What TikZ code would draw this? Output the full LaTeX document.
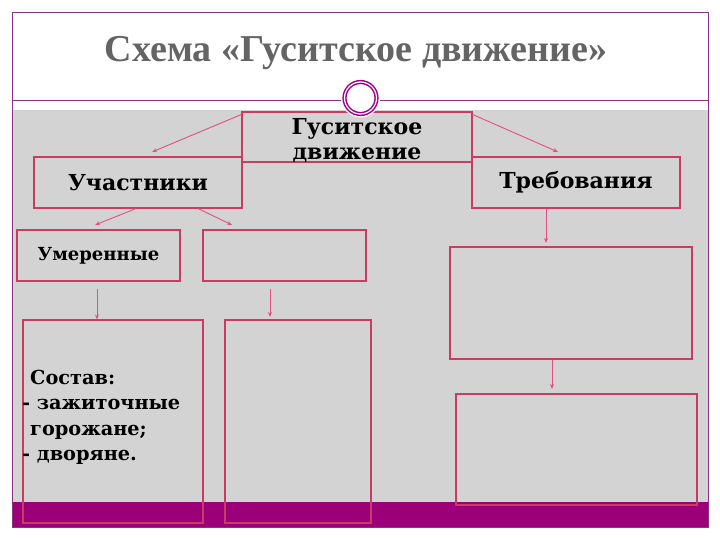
\documentclass[tikz,border=0pt]{standalone}
\usepackage{fontspec}
\setmainfont{DejaVu Serif}
\newfontfamily\titlefont{Liberation Serif}
\usetikzlibrary{arrows.meta}
\definecolor{framec}{RGB}{140,50,130}
\definecolor{boxc}{RGB}{200,60,100}
\definecolor{arrc}{RGB}{225,80,130}
\definecolor{grayc}{RGB}{211,211,211}
\definecolor{bandc}{RGB}{155,0,120}
\definecolor{titlec}{RGB}{100,100,100}
\definecolor{ringc}{RGB}{160,0,140}
\begin{document}
\begin{tikzpicture}[x=1pt,y=-1pt,
  box/.style={draw=boxc, line width=1.1pt, inner sep=0pt, align=center,
    font=\bfseries\fontsize{22}{25}\selectfont},
  smallbox/.style={box, font=\bfseries\fontsize{18}{20}\selectfont},
  boxtext/.style={inner sep=0pt, align=center, font=\bfseries\fontsize{22}{25}\selectfont},
  titletext/.style={inner sep=0pt, text=titlec, font=\titlefont\bfseries\fontsize{38}{40}\selectfont},
  arr/.style={draw=arrc, line width=0.9pt, -{Stealth[length=5pt,width=4pt]}}]
\useasboundingbox (0,0) rectangle (720,540);
\fill[white] (0,0) rectangle (720,540);
\fill[grayc] (12,110) rectangle (708,502);
\fill[bandc] (12,502) rectangle (708,527);
\draw[framec, line width=0.8pt] (12,12) rectangle (708,527);
\draw[framec, line width=1pt] (12,101) -- (708,101);
\node[titletext] (title) at (356,53) {Схема «Гуситское движение»};
% boxes
\node[box, minimum width=230pt, minimum height=50pt] (g) at (357,137) {};
\node[boxtext] (gtxt) at (357,141) {Гуситское\\движение};
\node[box, minimum width=208pt, minimum height=51pt] (u) at (138,182.5) {Участники};
\node[box, minimum width=208pt, minimum height=51pt] (t) at (576,182.5) {Требования};
\node[smallbox, minimum width=163pt, minimum height=51pt] (m) at (98.5,255.5) {Умеренные};
\node[box, minimum width=163pt, minimum height=51pt] (e) at (284.5,255.5) {};
\node[box, minimum width=242pt, minimum height=112pt] (r1) at (571,303) {};
\node[box, minimum width=241pt, minimum height=111pt] (r2) at (576.5,449.5) {};
\node[box, minimum width=180pt, minimum height=203pt] (b1) at (113,421.5) {};
\node[box, minimum width=146pt, minimum height=203pt] (b2) at (298,421.5) {};
\node[anchor=north west, inner sep=0pt, align=left,
  font=\bfseries\fontsize{19.3}{25.3}\selectfont] (sostav) at (22,370)
  {\hspace*{8pt}Состав:\\- зажиточные\\\hspace*{8pt}горожане;\\- дворяне.};
% ring
\fill[white] (360.5,98) circle (19.5);
\node[circle, draw=ringc, double=white, double distance=1.2pt, line width=1.5pt,
  fill=white, minimum size=32pt, inner sep=0pt] (ring) at (360.5,98) {};
% arrow ends
\coordinate (c1) at (152,152);
\coordinate (c2) at (558,152);
\coordinate (c3) at (95,225);
\coordinate (c4) at (232,225);
\coordinate (c6) at (270,317);
\coordinate (c7) at (546,243);
\coordinate (c8) at (552,389);
\draw[arr] ([yshift=-3pt]g.north west) -- (c1);
\draw[arr] ([yshift=-3pt]g.north east) -- (c2);
\draw[arr] ([xshift=-2pt]u.south) -- (c3);
\draw[arr] ([xshift=60pt]u.south) -- (c4);
\draw[arr] ([xshift=-1.5pt,yshift=-7pt]m.south) -- ([xshift=-1.5pt]m.south |- b1.north);
\draw[arr] ([xshift=-14.5pt,yshift=-7pt]e.south) -- (c6);
\draw[arr] ([xshift=-30pt]t.south) -- (c7);
\draw[arr] ([xshift=-19pt]r1.south) -- (c8);
\end{tikzpicture}
\end{document}
